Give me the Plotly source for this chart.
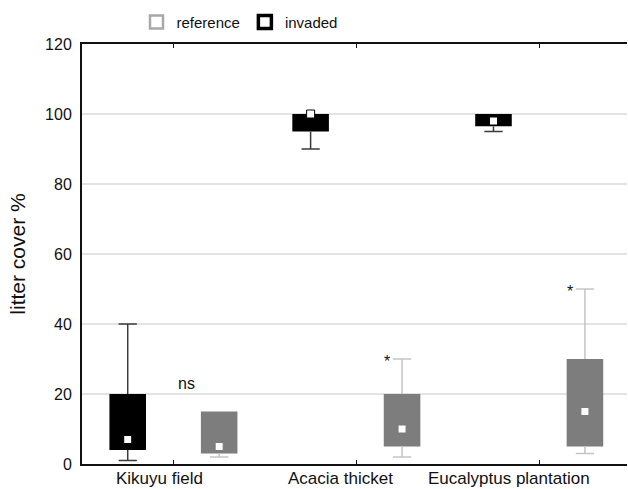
import plotly.graph_objects as go

# Litter cover (%) per habitat: box-and-whisker summaries
categories = ["Kikuyu field", "Acacia thicket", "Eucalyptus plantation"]

invaded_low = [1, 90, 95]
invaded_q1 = [4, 95, 96.5]
invaded_median = [7, 100, 98]
invaded_q3 = [20, 100, 100]
invaded_high = [40, 100, 100]

reference_low = [2, 2, 3]
reference_q1 = [3, 5, 5]
reference_median = [5, 10, 15]
reference_q3 = [15, 20, 30]
reference_high = [15, 30, 50]

y_ticks = [0, 20, 40, 60, 80, 100, 120]

# significance labels: (category index, text, y value)
significance = [(0, "ns", 23), (1, "*", 30), (2, "*", 50)]

OFFSET = 0.25
BOX_W = 0.2
CAP = 0.05

series = [
    dict(name="invaded", shift=-OFFSET, low=invaded_low, q1=invaded_q1,
         med=invaded_median, q3=invaded_q3, high=invaded_high,
         fill="#000000", whisker="#3a3a3a"),
    dict(name="reference", shift=OFFSET, low=reference_low, q1=reference_q1,
         med=reference_median, q3=reference_q3, high=reference_high,
         fill="#7d7d7d", whisker="#c4c4c4"),
]

fig = go.Figure()

for s in series:
    xs = [i + s["shift"] for i in range(len(categories))]
    # whiskers: vertical stems outside the box plus horizontal caps
    wx, wy = [], []
    for x, lo, q1, q3, hi in zip(xs, s["low"], s["q1"], s["q3"], s["high"]):
        if hi > q3:
            wx += [x, x, None, x - CAP, x + CAP, None]
            wy += [q3, hi, None, hi, hi, None]
        if lo < q1:
            wx += [x, x, None, x - CAP, x + CAP, None]
            wy += [q1, lo, None, lo, lo, None]
    fig.add_trace(go.Scatter(x=wx, y=wy, mode="lines",
                             line=dict(color=s["whisker"], width=1.5),
                             showlegend=False, hoverinfo="skip"))
    # interquartile box
    fig.add_trace(go.Bar(x=xs, base=s["q1"],
                         y=[b - a for a, b in zip(s["q1"], s["q3"])],
                         width=BOX_W, marker=dict(color=s["fill"], line=dict(width=0)),
                         showlegend=False))
    # median marker
    fig.add_trace(go.Scatter(x=xs, y=s["med"], mode="markers",
                             marker=dict(symbol="square", size=8, color="white",
                                         line=dict(color=s["fill"], width=1)),
                             showlegend=False))

# legend-only swatches
fig.add_trace(go.Scatter(x=[None], y=[None], mode="markers", name="reference",
                         marker=dict(symbol="square", size=13, color="white",
                                     line=dict(color="#a8a8a8", width=2.5))))
fig.add_trace(go.Scatter(x=[None], y=[None], mode="markers", name="invaded",
                         marker=dict(symbol="square", size=13, color="white",
                                     line=dict(color="#000000", width=3.5))))

annotations = []
label_shift = [-14, -16, -30]
for i, (name, dx) in enumerate(zip(categories, label_shift)):
    annotations.append(dict(x=i, y=0, xref="x", yref="paper", text=name,
                            showarrow=False, yanchor="top", yshift=-3, xshift=dx,
                            font=dict(size=17, color="#111")))
for i, txt, yv in significance:
    if txt == "ns":
        annotations.append(dict(x=i, y=yv, xref="x", yref="y", text=txt,
                                showarrow=False, xshift=13,
                                font=dict(size=16, color="#111")))
    else:
        annotations.append(dict(x=i + OFFSET, y=yv, xref="x", yref="y", text=txt,
                                showarrow=False, xshift=-15, yshift=-2,
                                font=dict(size=16, color="#111")))

fig.update_layout(
    width=628, height=489,
    margin=dict(l=82, r=1, t=44, b=25),
    paper_bgcolor="white", plot_bgcolor="white",
    font=dict(family="Liberation Sans, Arial, sans-serif", color="#111"),
    barmode="overlay",
    annotations=annotations,
    legend=dict(orientation="h", x=0.1, y=1.052, xanchor="left", yanchor="middle",
                font=dict(size=15), bgcolor="rgba(0,0,0,0)",
                itemwidth=30, traceorder="normal"),
    xaxis=dict(range=[-0.5, 2.48], tickvals=list(range(len(categories))),
               ticktext=["" for _ in categories], ticks="inside", ticklen=4,
               tickcolor="#111", showline=True, linecolor="#111", linewidth=2,
               mirror="ticks", showgrid=False, zeroline=False, fixedrange=True),
    yaxis=dict(range=[0, 120], tickvals=y_ticks, ticks="", showline=True,
               linecolor="#111", linewidth=2, showgrid=True, gridcolor="#e3e3e3",
               gridwidth=1.5, zeroline=False, ticklabelstandoff=5,
               tickfont=dict(size=16),
               title=dict(text="litter cover %", font=dict(size=21), standoff=14)),
)

fig.write_html("out.html")
